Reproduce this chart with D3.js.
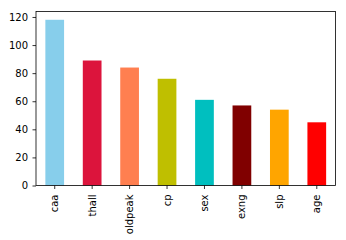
<!DOCTYPE html>
<html>
<head>
<meta charset="utf-8">
<script src="https://cdn.jsdelivr.net/npm/d3@7"></script>
<style>
  html, body { margin: 0; padding: 0; background: #fff; }
  svg { display: block; }
  text { font-family: "DejaVu Sans", sans-serif; font-size: 10px; fill: #000; }
</style>
</head>
<body>
<div id="chart"></div>
<script>
// Feature counts, sorted descending
const categories = ["caa", "thall", "oldpeak", "cp", "sex", "exng", "slp", "age"];
const values = [118, 89, 84, 76, 61, 57, 54, 45];
const barColors = ["skyblue", "crimson", "coral", "#bfbf00", "#00bfbf", "maroon", "orange", "red"];
const yTicks = [0, 20, 40, 60, 80, 100, 120];

const width = 346, height = 240;
const margin = { top: 11.5, right: 10.5, bottom: 54.5, left: 36 };

const svg = d3.select("#chart")
  .append("svg")
  .attr("width", width)
  .attr("height", height);

const x = d3.scaleBand()
  .domain(categories)
  .range([margin.left, width - margin.right])
  .paddingInner(0.5)
  .paddingOuter(0.25);

const y = d3.scaleLinear()
  .domain([0, d3.max(values) * 1.05])
  .range([height - margin.bottom, margin.top]);

// bars
svg.append("g")
  .selectAll("rect")
  .data(categories)
  .join("rect")
  .attr("x", d => x(d))
  .attr("width", x.bandwidth())
  .attr("y", (d, i) => y(values[i]))
  .attr("height", (d, i) => y(0) - y(values[i]))
  .attr("fill", (d, i) => barColors[i]);

// y axis
const yAxis = svg.append("g")
  .attr("transform", `translate(${margin.left},0)`)
  .call(d3.axisLeft(y).tickValues(yTicks).tickSize(3.5).tickPadding(4.5).tickSizeOuter(0));

// x axis
const xAxis = svg.append("g")
  .attr("transform", `translate(0,${height - margin.bottom})`)
  .call(d3.axisBottom(x).tickSize(3.5).tickPadding(3.5).tickSizeOuter(0));

xAxis.selectAll("text")
  .attr("transform", "rotate(-90)")
  .attr("text-anchor", "end")
  .attr("x", -9)
  .attr("y", 0)
  .attr("dy", "0.35em");

[yAxis, xAxis].forEach(g => {
  g.select(".domain").remove();
  g.selectAll("line").attr("stroke", "#000").attr("stroke-width", 0.8);
  g.selectAll("text").style("font-size", "10px").attr("fill", "#000");
});

// frame (all four spines)
svg.append("rect")
  .attr("x", margin.left)
  .attr("y", margin.top)
  .attr("width", width - margin.left - margin.right)
  .attr("height", height - margin.top - margin.bottom)
  .attr("fill", "none")
  .attr("stroke", "#000")
  .attr("stroke-width", 0.8);
</script>
</body>
</html>
